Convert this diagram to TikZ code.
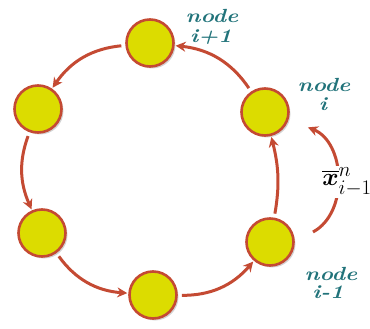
\documentclass[tikz,border=0pt]{standalone}
\usepackage{amsmath, amssymb}
\usepackage{tikz}
\usetikzlibrary{arrows.meta, shadows}
\definecolor{rust}{HTML}{C44A33}
\definecolor{lemon}{HTML}{DCDC00}
\definecolor{tealtext}{HTML}{21737A}
\tikzset{
  peer/.style={circle, draw=rust, line width=2.6pt, fill=lemon, minimum size=47pt,
    drop shadow={shadow xshift=2pt, shadow yshift=-2pt, opacity=0.35, fill=gray}},
  flow/.style={draw=rust, line width=3pt, -{Stealth[length=10pt, width=10pt]},
    shorten <=4pt, shorten >=1pt},
  tag/.style={text=tealtext, font=\fontsize{19}{21}\selectfont\bfseries\itshape,
    align=center, inner sep=0pt, xscale=1.2}
}
\begin{document}
\begin{tikzpicture}[x=1pt, y=1pt]
\useasboundingbox (0,0) rectangle (370,-329);
%put nodes
\node[peer] (top) at (150,-43) {};
\node[peer] (ul) at (38,-109) {};
\node[peer] (ll) at (42,-233) {};
\node[peer] (bot) at (153,-295) {};
\node[peer] (im) at (270,-242) {};
\node[peer] (ii) at (265,-112) {};
%ring
\draw[flow] (top) to[bend right=25] (ul);
\draw[flow] (ul) to[bend right=22] (ll);
\draw[flow] (ll) to[bend right=25] (bot);
\draw[flow] (bot) to[bend right=25] (im);
\draw[flow] (im) to[bend right=12] (ii);
\draw[flow] (ii) to[bend right=25] (top);
%message
\coordinate (msgfrom) at (313,-232);
\coordinate (msgto) at (307,-127);
\draw[flow, shorten <=0pt] (msgfrom) to[bend right=65] (msgto);
\node[fill=white, inner sep=2pt] (msg) at (347,-182) {\Huge$\overline{\boldsymbol{x}}^{n}_{i-1}$};
%label
\node[tag] (tagtop) at (212,-16) {node};
\node[tag] (tagtopn) at (211,-37) {i+1};
\node[tag] (tagii) at (324,-85) {node};
\node[tag] (tagiin) at (323,-104) {i};
\node[tag] (tagim) at (331,-274) {node};
\node[tag] (tagimn) at (328,-292) {i-1};
\end{tikzpicture}
\end{document}
